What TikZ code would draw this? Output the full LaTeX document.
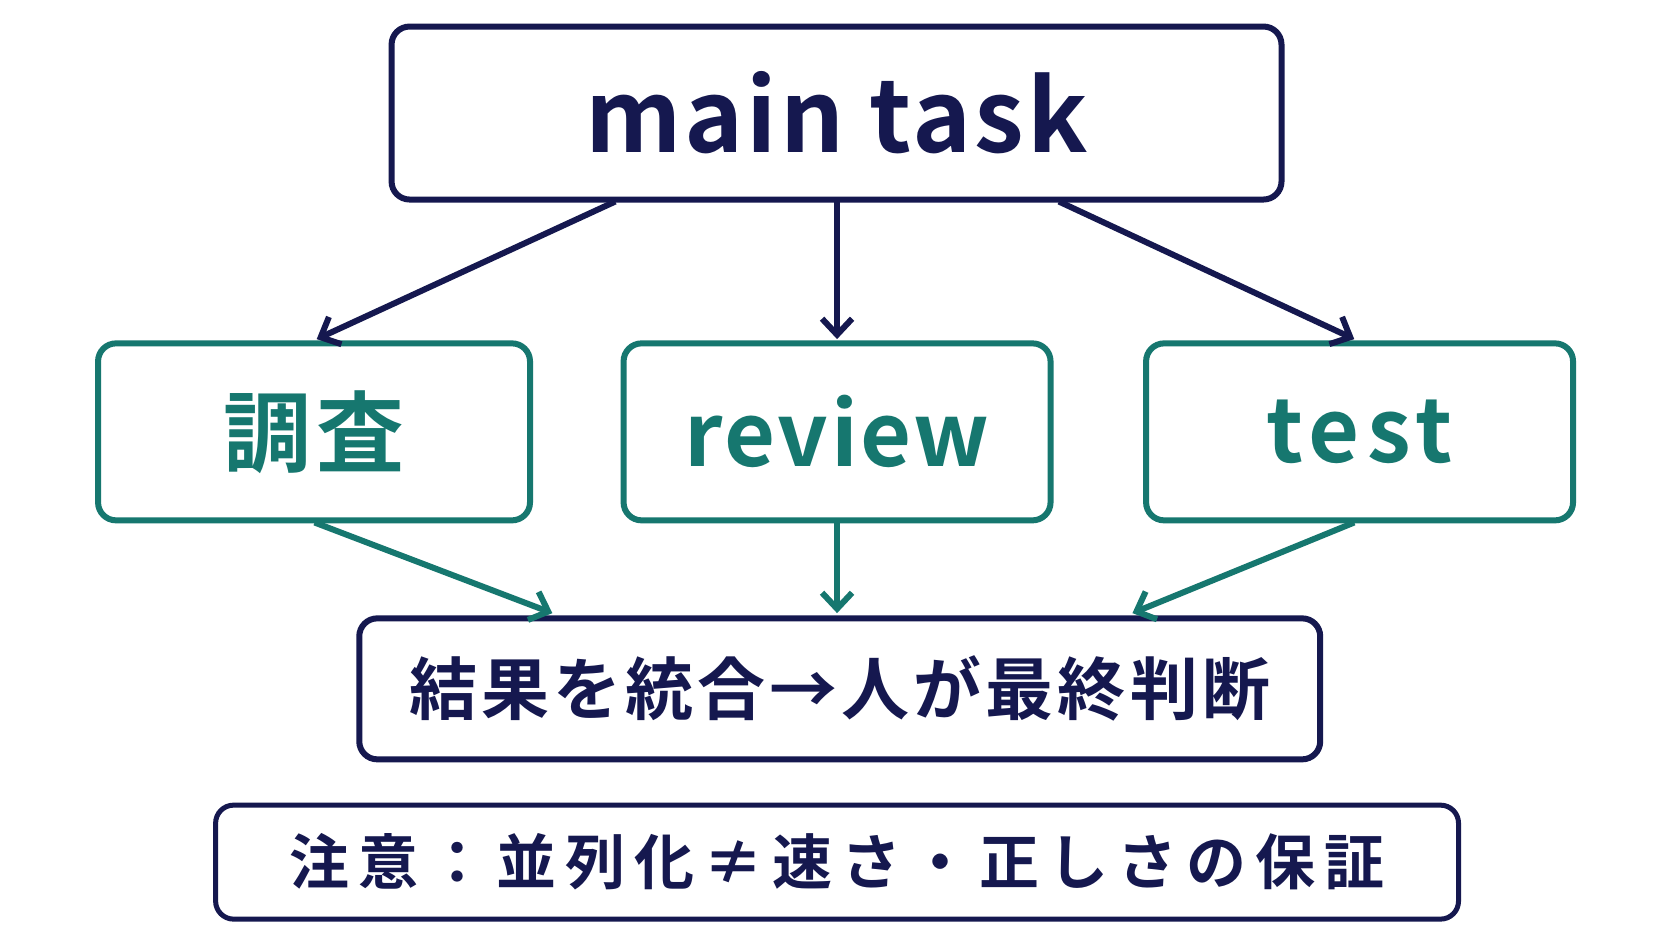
\documentclass[tikz,border=0pt]{standalone}
\usepackage{fontspec}
\setmainfont{Noto Sans CJK JP}[BoldFont={* Bold}]
\newfontfamily\jp{Noto Sans CJK JP Bold}
\usetikzlibrary{arrows.meta}
\definecolor{navy}{HTML}{15184F}
\definecolor{teal}{HTML}{16776F}
\begin{document}
\begin{tikzpicture}[x=1.0664pt,y=-1.0664pt,
 box/.style={draw,line width=6pt,rounded corners=18pt,inner sep=0pt},
 arr/.style={line width=6pt,-{Straight Barb[length=16pt,width=30pt,line width=6pt]}}]
\useasboundingbox (0,0) rectangle (1568,882.5);
\fill[white] (0,0) rectangle (1568,882.5);
\node[box,navy,minimum width=890pt,minimum height=173pt,font=\jp\fontsize{100}{100}\selectfont\addfontfeature{LetterSpace=3}] (m) at (784.5,106) {main task};
\node[box,teal,minimum width=432pt,minimum height=177pt,font=\jp\fontsize{88}{88}\selectfont\addfontfeature{LetterSpace=6}] (a) at (294.5,405) {調査};
\node[box,teal,minimum width=427pt,minimum height=177pt,font=\jp\fontsize{88}{88}\selectfont\addfontfeature{LetterSpace=3}] (b) at (785,405) {review};
\node[box,teal,minimum width=427pt,minimum height=177pt,font=\jp\fontsize{88}{88}\selectfont\addfontfeature{LetterSpace=8}] (c) at (1275,405) {test};
\node[box,navy,minimum width=961pt,minimum height=141pt,font=\jp\fontsize{68}{68}\selectfont\addfontfeature{LetterSpace=6}] (r) at (787.5,646) {結果を統合→人が最終判断};
\node[box,navy,line width=5pt,minimum width=1243pt,minimum height=114pt,font=\jp\fontsize{60}{60}\selectfont\addfontfeature{LetterSpace=15}] (n) at (785,808.5) {注意：並列化≠速さ・正しさの保証};
\coordinate (m1) at (577,189); \coordinate (m2) at (785,189); \coordinate (m3) at (993,189);
\coordinate (a1) at (297,318); \coordinate (b1) at (785,318); \coordinate (c1) at (1270,318);
\draw[arr,navy] (m1) -- (a1);
\draw[arr,navy] (m2) -- (b1);
\draw[arr,navy] (m3) -- (c1);
\coordinate (a2) at (295,490); \coordinate (b2) at (785,490); \coordinate (c2) at (1270,490);
\coordinate (r1) at (518,575); \coordinate (r2) at (785,575); \coordinate (r3) at (1062,575);
\draw[arr,teal] (a2) -- (r1);
\draw[arr,teal] (b2) -- (r2);
\draw[arr,teal] (c2) -- (r3);
\end{tikzpicture}
\end{document}
